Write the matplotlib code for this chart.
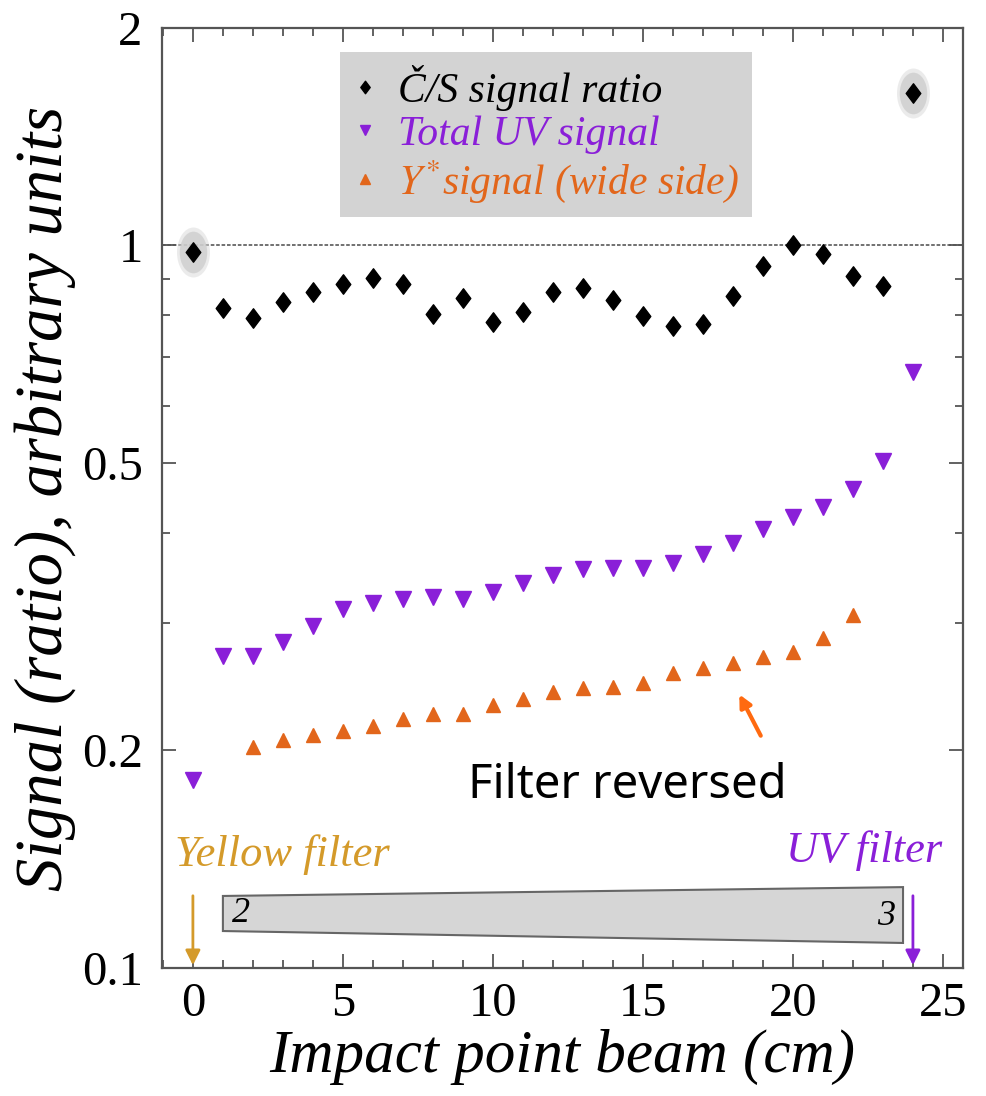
import matplotlib.pyplot as plt
from matplotlib.patches import Polygon
from matplotlib.path import Path
from matplotlib.lines import Line2D
from matplotlib.transforms import Affine2D
from matplotlib.ticker import FixedLocator, MultipleLocator, NullFormatter


# 数据：横坐标为束流入射点 (cm)
ratio_x = list(range(0, 25))
ratio_y = [0.98, 0.82, 0.794, 0.835, 0.862, 0.885, 0.902, 0.885, 0.804, 0.846,
           0.784, 0.809, 0.862, 0.873, 0.841, 0.799, 0.774, 0.779, 0.852, 0.937,
           1.0, 0.973, 0.907, 0.878, 1.626]
halo_x = [0, 24]
halo_y = [0.98, 1.626]

uv_x = list(range(0, 25))
uv_y = [0.182, 0.270, 0.270, 0.283, 0.297, 0.314, 0.320, 0.324, 0.326, 0.324,
        0.331, 0.341, 0.350, 0.357, 0.358, 0.358, 0.364, 0.374, 0.387, 0.405,
        0.421, 0.435, 0.460, 0.503, 0.668]

yel_x = list(range(2, 23))
yel_y = [0.202, 0.207, 0.210, 0.213, 0.216, 0.221, 0.225, 0.225, 0.231, 0.236,
         0.241, 0.244, 0.245, 0.248, 0.256, 0.260, 0.264, 0.269, 0.274, 0.286,
         0.308]

y_ticks = [0.1, 0.2, 0.5, 1, 2]
y_tick_labels = ["0.1", "0.2", "0.5", "1", "2"]
y_minor = [0.3, 0.4, 0.6, 0.7, 0.8, 0.9]

BLACK = "#000000"
PURPLE = "#8a1fd8"
ORANGE = "#e2661b"
GOLD = "#d49a2a"
SPINE = "#555555"

plt.rcParams["font.family"] = ["Liberation Serif", "DejaVu Serif"]
plt.rcParams["mathtext.fontset"] = "stix"

# 稍微瘦长的菱形与椭圆标记
diamond = Path([(0, 1), (0.75, 0), (0, -1), (-0.75, 0), (0, 1)],
               [Path.MOVETO, Path.LINETO, Path.LINETO, Path.LINETO, Path.CLOSEPOLY])
ellipse = Path.unit_circle().transformed(Affine2D().scale(0.66, 1.0))

fig = plt.figure(figsize=(9.86, 10.96), dpi=100)
ax = fig.add_axes([0.1643, 0.1168, 0.8124, 0.8577])
ax.set_yscale("log")
ax.set_xlim(-1.03, 25.67)
ax.set_ylim(0.1, 2)

ax.axhline(1, color="#666666", lw=1.3, ls=(0, (2, 1)), zorder=1)

ax.plot(halo_x, halo_y, ls="none", marker=ellipse, ms=30, color="#c4c4c4",
        mec="none", alpha=0.8, zorder=2)
ax.plot(halo_x, halo_y, ls="none", marker=ellipse, ms=36, color="#d8d8d8",
        mec="none", alpha=0.5, zorder=2)
ax.plot(ratio_x, ratio_y, ls="none", marker=diamond, ms=14, color=BLACK, zorder=3)
ax.plot(uv_x, uv_y, ls="none", marker="v", ms=11, color=PURPLE, zorder=3)
ax.plot(yel_x, yel_y, ls="none", marker="^", ms=10, color=ORANGE, zorder=3)

# 图例
handles = [
    Line2D([], [], ls="none", marker=diamond, ms=9, color=BLACK),
    Line2D([], [], ls="none", marker="v", ms=7, color=PURPLE),
    Line2D([], [], ls="none", marker="^", ms=7, color=ORANGE),
]
labels = ["Č/S signal ratio", "Total UV signal", r"$Y^{*}$signal (wide side)"]
leg = ax.legend(handles, labels, loc="upper left", bbox_to_anchor=(0.222, 0.974),
                frameon=True, fancybox=False, facecolor="#d3d3d3", edgecolor="none",
                framealpha=1, handlelength=0.6, handletextpad=0.5, borderpad=0.3,
                labelspacing=0.1, borderaxespad=0,
                prop={"family": "Liberation Serif", "style": "italic", "size": 30})
for text, c in zip(leg.get_texts(), [BLACK, PURPLE, ORANGE]):
    text.set_color(c)

# 滤光片示意
trap = Polygon([(1.0, 0.1258), (23.67, 0.1294), (23.67, 0.1083), (1.0, 0.1125)],
               closed=True, facecolor="#d6d6d6", edgecolor="#666666", lw=1.5, zorder=2)
ax.add_patch(trap)
ax.text(1.3, 0.119, "2", fontsize=26, style="italic", ha="left", va="center", zorder=3)
ax.text(23.4, 0.118, "3", fontsize=26, style="italic", ha="right", va="center", zorder=3)

ax.annotate("", xy=(0, 0.1), xytext=(0, 0.127),
            arrowprops=dict(arrowstyle="-|>", color=GOLD, lw=2, mutation_scale=22))
ax.annotate("", xy=(24, 0.1), xytext=(24, 0.127),
            arrowprops=dict(arrowstyle="-|>", color=PURPLE, lw=2, mutation_scale=22))
ax.text(-0.6, 0.1384, "Yellow filter", color=GOLD, fontsize=32, style="italic",
        ha="left", va="baseline")
ax.text(24.97, 0.1402, "UV filter", color=PURPLE, fontsize=32, style="italic",
        ha="right", va="baseline")

ax.annotate("", xy=(18.17, 0.241), xytext=(18.97, 0.208),
            arrowprops=dict(arrowstyle="-|>", color="#ff6a10", lw=3, mutation_scale=18))
ax.text(14.47, 0.172, "Filter reversed", family="Noto Sans", fontsize=34,
        ha="center", va="baseline")

# 坐标轴
ax.yaxis.set_major_locator(FixedLocator(y_ticks))
ax.set_yticklabels(y_tick_labels)
ax.yaxis.set_minor_locator(FixedLocator(y_minor))
ax.yaxis.set_minor_formatter(NullFormatter())
ax.xaxis.set_major_locator(MultipleLocator(5))
ax.xaxis.set_minor_locator(MultipleLocator(1))
ax.tick_params(which="both", direction="in", top=True, right=True, color=SPINE,
               labelsize=35, width=1.3)
ax.tick_params(which="major", length=10, pad=10)
ax.tick_params(which="minor", length=6)
ax.tick_params(axis="y", pad=14)
for s in ax.spines.values():
    s.set_color(SPINE)
    s.set_linewidth(1.6)

ax.set_xlabel("Impact point beam (cm)", fontsize=44, style="italic", labelpad=2)
ax.set_ylabel("Signal (ratio), arbitrary units", fontsize=48, style="italic", labelpad=4)

fig.savefig("out.png", dpi=100)
